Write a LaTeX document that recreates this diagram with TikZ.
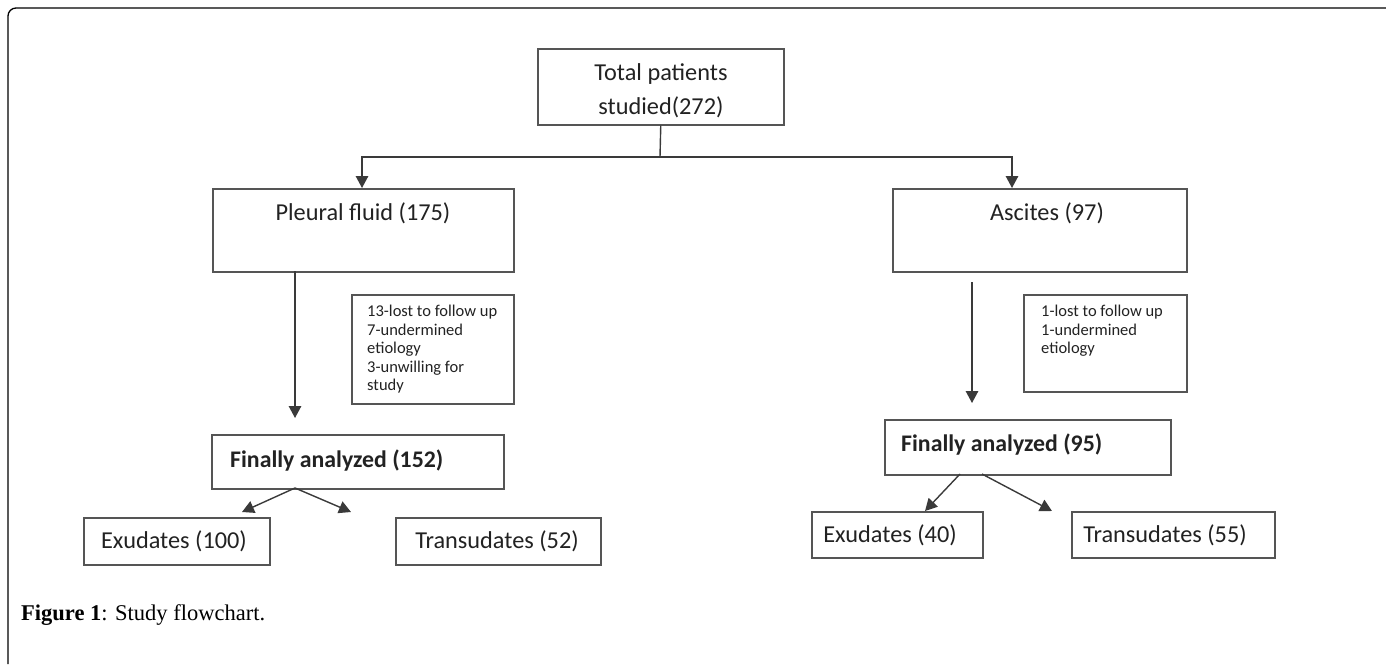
\documentclass[tikz,border=0pt]{standalone}
\usepackage{fontspec}
\setmainfont{Carlito}
\newfontfamily\capfont{Liberation Serif}
\usetikzlibrary{arrows.meta}
\definecolor{boxgray}{HTML}{555555}
\definecolor{linegray}{HTML}{3A3A3A}
\definecolor{txtc}{HTML}{222222}
\tikzset{
  box/.style={draw=boxgray, line width=1.5pt, fill=white, inner sep=0pt, anchor=north west},
  lbl/.style={text=txtc, inner sep=0pt, font=\fontsize{24.3}{34}\selectfont},
  blbl/.style={text=txtc, inner sep=0pt, font=\fontsize{23.8}{28}\selectfont\bfseries},
  notelbl/.style={text=txtc, inner sep=0pt, anchor=north west, align=left, font=\fontsize{16.5}{18.5}\selectfont},
  conn/.style={draw=linegray, line width=1.4pt},
  arr/.style={conn, -{Triangle[width=12.5pt,length=12pt]}}
}
\begin{document}
\begin{tikzpicture}[x=1pt,y=-1pt]
\useasboundingbox (0,0) rectangle (1386,664);
% outer frame
\draw[black, line width=1.3pt, rounded corners=8pt] (8,664) -- (8,8) -- (1386,8);

% boxes
\node[box, minimum width=246pt, minimum height=76pt] (tot) at (537,48) {};
\node[box, minimum width=301pt, minimum height=83pt] (pl) at (212,188) {};
\node[box, minimum width=294pt, minimum height=83pt] (as) at (892,188) {};
\node[box, minimum width=162pt, minimum height=109pt] (n1) at (351,294) {};
\node[box, minimum width=163pt, minimum height=97pt] (n2) at (1023,294) {};
\node[box, minimum width=292pt, minimum height=54pt] (fa1) at (211,434) {};
\node[box, minimum width=286pt, minimum height=55pt] (fa2) at (884,419) {};
\node[box, minimum width=186pt, minimum height=47pt] (ex1) at (83,517) {};
\node[box, minimum width=205pt, minimum height=47pt] (tr1) at (395,517) {};
\node[box, minimum width=171pt, minimum height=46pt] (ex2) at (811,511) {};
\node[box, minimum width=203pt, minimum height=46pt] (tr2) at (1071,511) {};

% texts
\node[lbl, align=center] (tott) at (661,91) {Total patients\\studied(272)};
\node[lbl] (plt) at (363,213) {Pleural fluid (175)};
\node[lbl] (ast) at (1047,213) {Ascites (97)};
\node[notelbl] (n1t) at (367,305) {13-lost to follow up\\7-undermined\\etiology\\3-unwilling for\\study};
\node[notelbl] (n2t) at (1041,305) {1-lost to follow up\\1-undermined\\etiology};
\node[blbl, anchor=west] (fa1t) at (230,461) {Finally analyzed (152)};
\node[blbl, anchor=west] (fa2t) at (901,445) {Finally analyzed (95)};
\node[lbl] (ex1t) at (174,541) {Exudates (100)};
\node[lbl] (tr1t) at (497,541) {Transudates (52)};
\node[lbl] (ex2t) at (890,535) {Exudates (40)};
\node[lbl] (tr2t) at (1165,535) {Transudates (55)};

% connector coordinates
\coordinate (hub) at (660,157);
\coordinate (plin) at (362,188);
\coordinate (asin) at (1012,188);
\coordinate (plout) at (295,271);
\coordinate (plend) at (295,418);
\coordinate (asout) at (972,282);
\coordinate (asend) at (972,403);
\coordinate (f1o) at (295,488);
\coordinate (f1l) at (242,512);
\coordinate (f1r) at (351,512);
\coordinate (f2ol) at (960,474);
\coordinate (f2or) at (982,474);
\coordinate (f2l) at (925,511);
\coordinate (f2r) at (1052,511);

\draw[conn] (tot.south) -- (hub);
\draw[arr] (hub) -| (plin);
\draw[arr] (hub) -| (asin);
\draw[arr] (plout) -- (plend);
\draw[arr] (asout) -- (asend);
\draw[arr] (f1o) -- (f1l);
\draw[arr] (f1o) -- (f1r);
\draw[arr] (f2ol) -- (f2l);
\draw[arr] (f2or) -- (f2r);

% caption
\node[anchor=west, inner sep=0pt, text=black, font=\capfont\fontsize{22.5}{26}\selectfont] (cap) at (21,615) {\textbf{Figure 1}: Study flowchart.};
\end{tikzpicture}
\end{document}
